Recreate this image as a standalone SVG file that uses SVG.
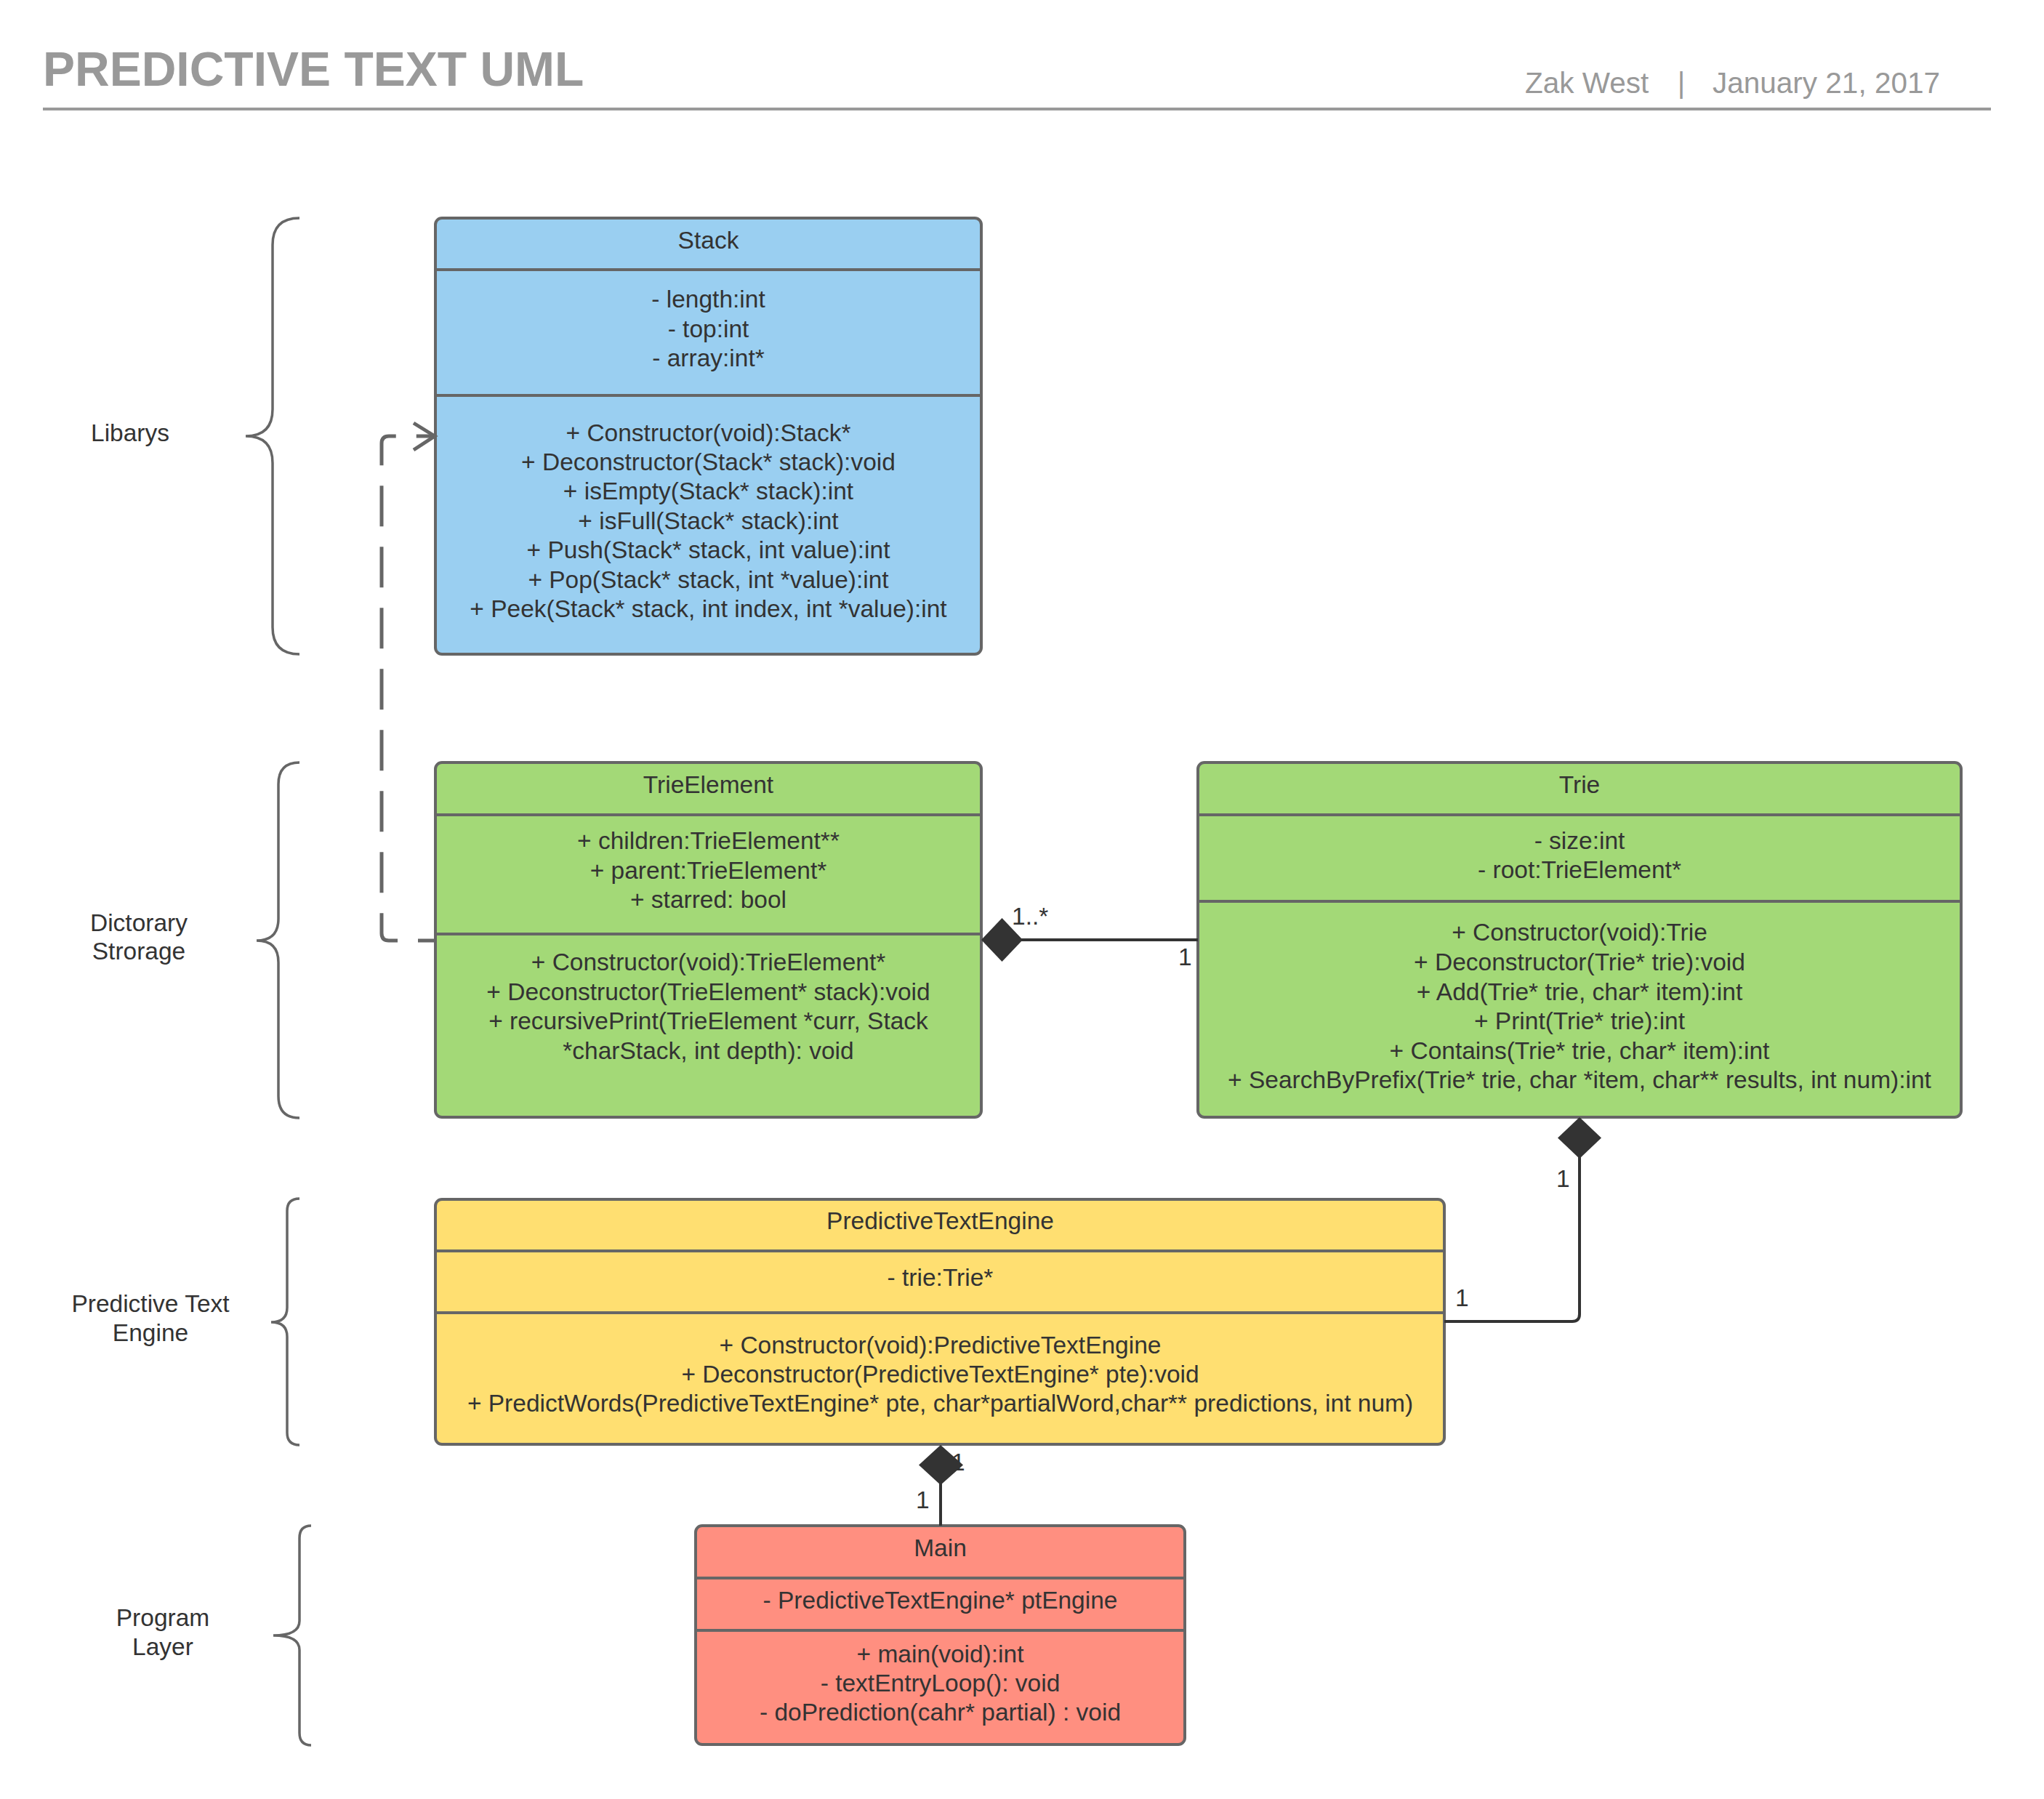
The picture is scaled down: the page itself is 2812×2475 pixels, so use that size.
<svg xmlns="http://www.w3.org/2000/svg" width="2812" height="2475" viewBox="0 0 2812 2475">
  <style>
    .t { font-family: "Liberation Sans", Arial, sans-serif; font-size: 33.5px; fill: #333333; }
    .c { text-anchor: middle; }
    .box { stroke: #666666; stroke-width: 4; }
    .div { stroke: #666666; stroke-width: 4; }
    .brace { fill: none; stroke: #666666; stroke-width: 3.5; }
    .assoc { fill: none; stroke: #333333; stroke-width: 4; }
    .dia { fill: #333333; }
    .hdr { font-family: "Liberation Sans", Arial, sans-serif; fill: #999999; }
  </style>
  <rect width="2812" height="2475" fill="#ffffff"/>

  <g id="header">
    <text class="hdr" x="59" y="118" font-size="66" font-weight="bold">PREDICTIVE TEXT UML</text>
    <text class="hdr" x="2098" y="128" font-size="40.5">Zak West</text>
    <text class="hdr" x="2313" y="128" font-size="40.5" text-anchor="middle">|</text>
    <text class="hdr" x="2356" y="128" font-size="40.5">January 21, 2017</text>
    <line x1="59" y1="150" x2="2739" y2="150" stroke="#999999" stroke-width="4"/>
  </g>

  <g id="layers">
    <g id="layer-libarys">
      <path class="brace" d="M412,300 Q375,300 375,337 L375,563 Q375,600 338,600 Q375,600 375,637 L375,863 Q375,900 412,900"/>
      <text class="t c" x="179" y="607">Libarys</text>
    </g>
    <g id="layer-dictorary">
      <path class="brace" d="M412,1049 Q383,1049 383,1079 L383,1264 Q383,1294 353,1294 Q383,1294 383,1324 L383,1508 Q383,1538 412,1538"/>
      <text class="t c" x="191" y="1281">Dictorary</text>
      <text class="t c" x="191" y="1320">Strorage</text>
    </g>
    <g id="layer-pte">
      <path class="brace" d="M412,1649 Q395,1649 395,1666 L395,1799 Q395,1819 373,1819 Q395,1819 395,1839 L395,1971 Q395,1988 412,1988"/>
      <text class="t c" x="207" y="1805">Predictive Text</text>
      <text class="t c" x="207" y="1845">Engine</text>
    </g>
    <g id="layer-program">
      <path class="brace" d="M428,2099 Q412,2099 412,2116 L412,2230 Q412,2250 376,2250 Q412,2250 412,2270 L412,2384 Q412,2401 428,2401"/>
      <text class="t c" x="224" y="2237">Program</text>
      <text class="t c" x="224" y="2277">Layer</text>
    </g>
  </g>

  <g id="node-stack">
    <rect class="box" x="599" y="300" width="751" height="600" rx="9" fill="#9ACFF1"/>
    <line class="div" x1="599" y1="371" x2="1350" y2="371"/>
    <line class="div" x1="599" y1="544" x2="1350" y2="544"/>
    <text class="t c" x="974.5" y="342">Stack</text>
    <text class="t c" x="974.5" y="423">- length:int</text>
    <text class="t c" x="974.5" y="464">- top:int</text>
    <text class="t c" x="974.5" y="504">- array:int*</text>
    <text class="t c" x="974.5" y="607">+ Constructor(void):Stack*</text>
    <text class="t c" x="974.5" y="647">+ Deconstructor(Stack* stack):void</text>
    <text class="t c" x="974.5" y="687">+ isEmpty(Stack* stack):int</text>
    <text class="t c" x="974.5" y="728">+ isFull(Stack* stack):int</text>
    <text class="t c" x="974.5" y="768">+ Push(Stack* stack, int value):int</text>
    <text class="t c" x="974.5" y="809">+ Pop(Stack* stack, int *value):int</text>
    <text class="t c" x="974.5" y="849">+ Peek(Stack* stack, int index, int *value):int</text>
  </g>

  <g id="node-trieelement">
    <rect class="box" x="599" y="1049" width="751" height="488" rx="9" fill="#A3D977"/>
    <line class="div" x1="599" y1="1121" x2="1350" y2="1121"/>
    <line class="div" x1="599" y1="1285" x2="1350" y2="1285"/>
    <text class="t c" x="974.5" y="1091">TrieElement</text>
    <text class="t c" x="974.5" y="1168">+ children:TrieElement**</text>
    <text class="t c" x="974.5" y="1209">+ parent:TrieElement*</text>
    <text class="t c" x="974.5" y="1249">+ starred: bool</text>
    <text class="t c" x="974.5" y="1335">+ Constructor(void):TrieElement*</text>
    <text class="t c" x="974.5" y="1376">+ Deconstructor(TrieElement* stack):void</text>
    <text class="t c" x="974.5" y="1416">+ recursivePrint(TrieElement *curr, Stack</text>
    <text class="t c" x="974.5" y="1457">*charStack, int depth): void</text>
  </g>

  <g id="node-trie">
    <rect class="box" x="1648" y="1049" width="1050" height="488" rx="9" fill="#A3D977"/>
    <line class="div" x1="1648" y1="1121" x2="2698" y2="1121"/>
    <line class="div" x1="1648" y1="1240" x2="2698" y2="1240"/>
    <text class="t c" x="2173" y="1091">Trie</text>
    <text class="t c" x="2173" y="1168">- size:int</text>
    <text class="t c" x="2173" y="1208">- root:TrieElement*</text>
    <text class="t c" x="2173" y="1294">+ Constructor(void):Trie</text>
    <text class="t c" x="2173" y="1335">+ Deconstructor(Trie* trie):void</text>
    <text class="t c" x="2173" y="1376">+ Add(Trie* trie, char* item):int</text>
    <text class="t c" x="2173" y="1416">+ Print(Trie* trie):int</text>
    <text class="t c" x="2173" y="1457">+ Contains(Trie* trie, char* item):int</text>
    <text class="t c" x="2173" y="1497">+ SearchByPrefix(Trie* trie, char *item, char** results, int num):int</text>
  </g>

  <g id="node-pte">
    <rect class="box" x="599" y="1650" width="1388" height="337" rx="9" fill="#FFDF71"/>
    <line class="div" x1="599" y1="1721" x2="1987" y2="1721"/>
    <line class="div" x1="599" y1="1806" x2="1987" y2="1806"/>
    <text class="t c" x="1293.5" y="1691">PredictiveTextEngine</text>
    <text class="t c" x="1293.5" y="1769">- trie:Trie*</text>
    <text class="t c" x="1293.5" y="1862">+ Constructor(void):PredictiveTextEngine</text>
    <text class="t c" x="1293.5" y="1902">+ Deconstructor(PredictiveTextEngine* pte):void</text>
    <text class="t c" x="1293.5" y="1942">+ PredictWords(PredictiveTextEngine* pte, char*partialWord,char** predictions, int num)</text>
  </g>

  <g id="node-main">
    <rect class="box" x="957" y="2099" width="673" height="301" rx="9" fill="#FF8F80"/>
    <line class="div" x1="957" y1="2171" x2="1630" y2="2171"/>
    <line class="div" x1="957" y1="2243" x2="1630" y2="2243"/>
    <text class="t c" x="1293.5" y="2141">Main</text>
    <text class="t c" x="1293.5" y="2213">- PredictiveTextEngine* ptEngine</text>
    <text class="t c" x="1293.5" y="2287">+ main(void):int</text>
    <text class="t c" x="1293.5" y="2327">- textEntryLoop(): void</text>
    <text class="t c" x="1293.5" y="2367">- doPrediction(cahr* partial) : void</text>
  </g>

  <g id="connectors">
    <g id="dep-trieelement-stack">
      <path d="M599,1294 L535,1294 Q525,1294 525,1284 L525,610 Q525,600 535,600 L596,600" fill="none" stroke="#666666" stroke-width="5" stroke-dasharray="56 28" stroke-dashoffset="32"/>
      <path d="M569,582 L598,600 L569,619" fill="none" stroke="#666666" stroke-width="5" stroke-linejoin="miter"/>
    </g>
    <g id="comp-trie-trieelement">
      <line class="assoc" x1="1405" y1="1293" x2="1648" y2="1293"/>
      <polygon class="dia" points="1350,1293 1378.5,1263 1407,1293 1378.5,1323"/>
      <text class="t" x="1392" y="1272">1..*</text>
      <text class="t" x="1621" y="1328">1</text>
    </g>
    <g id="comp-pte-trie">
      <path class="assoc" d="M2173,1592 L2173,1808 Q2173,1818 2163,1818 L1987,1818"/>
      <polygon class="dia" points="2173,1537 2203,1565.5 2173,1594 2143,1565.5"/>
      <text class="t" x="2141" y="1633">1</text>
      <text class="t" x="2002" y="1797">1</text>
    </g>
    <g id="comp-main-pte">
      <line class="assoc" x1="1294" y1="2041" x2="1294" y2="2099"/>
      <text class="t" x="1309" y="2023">1</text>
      <polygon class="dia" points="1294,1988 1325,2015.5 1294,2043 1264,2015.5"/>
      <text class="t" x="1260" y="2075">1</text>
    </g>
  </g>
</svg>
